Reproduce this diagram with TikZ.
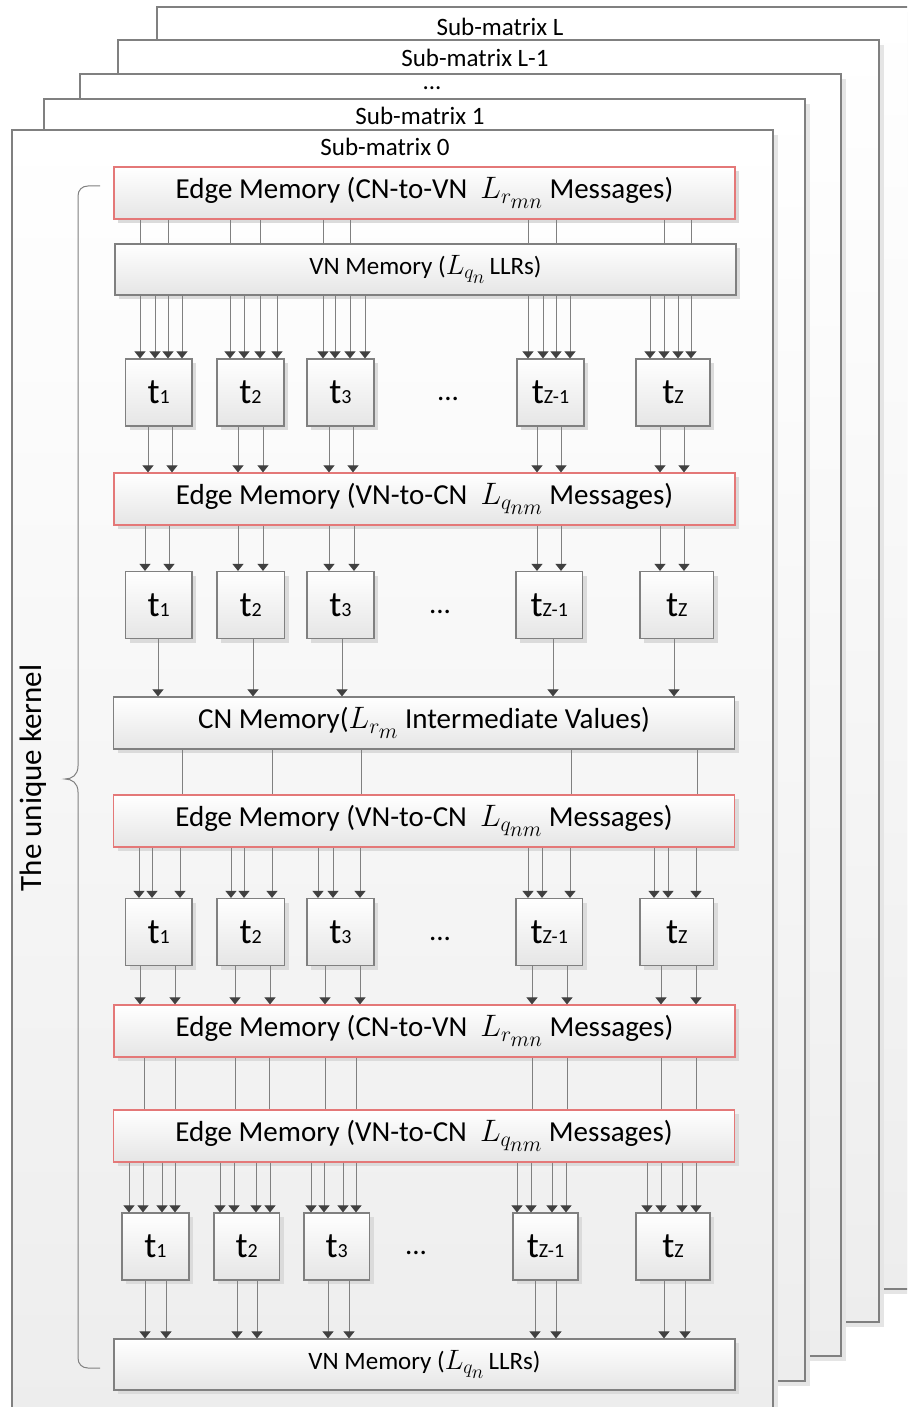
\RequirePackage{fix-cm}
\documentclass[tikz,border=0pt]{standalone}
\usepackage{fontspec}
\setmainfont{Carlito}
\usetikzlibrary{arrows.meta,shadows}

\definecolor{edgered}{RGB}{228,120,120}
\newcommand{\tlab}[1]{{\fontsize{36}{36}\selectfont t}{\fontsize{20}{20}\selectfont #1}}
% L with a two level index, the inner one kept readable
\newcommand{\Lidx}[3]{{\fontsize{#1}{#1}\selectfont$L_{#2_{\lower2pt\hbox{$\scriptstyle #3$}}}$}}

\begin{document}
\begin{tikzpicture}[x=1pt, y=-1pt, font=\fontsize{29}{34}\selectfont,
    subframe/.style={draw=gray, line width=1.3pt, top color=white, bottom color=black!7,
      drop shadow={shadow xshift=5pt, shadow yshift=-5pt, fill=black!10, opacity=1}},
    mem/.style={draw=black!50, line width=1.2pt, top color=white, bottom color=black!10,
      minimum width=621pt, minimum height=52pt, inner sep=0pt,
      drop shadow={shadow xshift=4pt, shadow yshift=-4pt, fill=black!14, opacity=1}},
    edgemem/.style={mem, draw=edgered},
    vnmem/.style={mem, minimum height=51pt, font=\fontsize{25}{30}\selectfont},
    tbox/.style={mem, minimum width=67pt, minimum height=67pt},
    link/.style={draw=black!50, line width=1pt},
    arr/.style={link, -{Triangle[width=11pt, length=7pt, color=black!75]}}]

  \fill[white] (0,0) rectangle (907,1407);
  \useasboundingbox (0,0) rectangle (907,1407);
  \clip (0,0) rectangle (907,1407);

  % stacked sub-matrices, back to front
  \foreach \x/\y/\lab/\tx/\ty in {157/7/{Sub-matrix L}/500/27, 118/40/{Sub-matrix L-1}/475/58,
      80/74/{...}/432/88, 44/99/{Sub-matrix 1}/420/116, 12/130/{Sub-matrix 0}/385/147} {
    \draw[subframe] (\x,\y) rectangle ++(761,1282);
    \node[font=\fontsize{25}{30}\selectfont, inner sep=0pt] (title\x) at (\tx,\ty) {\lab};
  }

  % the brace and its label
  \draw[link] (100,186) -- (88,186) .. controls (82,186) and (78,190) .. (78,196) -- (78,766)
    .. controls (78,775) and (72,779) .. (65,779) .. controls (72,779) and (78,783) .. (78,792)
    -- (78,1358) .. controls (78,1364) and (82,1368) .. (88,1368) -- (100,1368);
  \node[rotate=90, font=\fontsize{31}{36}\selectfont] (kernel) at (33,778) {The unique kernel};

  % memories
  \node[edgemem] (em1) at (424.5,193) {Edge Memory (CN-to-VN~ \Lidx{31}{r}{mn} Messages)};
  \node[vnmem] (vn1) at (425.5,269.5) {VN Memory (\Lidx{28}{q}{n}\,LLRs)};
  \node[edgemem] (em2) at (424.5,499) {Edge Memory (VN-to-CN~ \Lidx{31}{q}{nm} Messages)};
  \node[mem] (cn) at (424,723) {CN Memory(\Lidx{31}{r}{m} Intermediate Values)};
  \node[edgemem] (em3) at (424,821) {Edge Memory (VN-to-CN~ \Lidx{31}{q}{nm} Messages)};
  \node[edgemem] (em4) at (424.5,1031) {Edge Memory (CN-to-VN~ \Lidx{31}{r}{mn} Messages)};
  \node[edgemem] (em5) at (424,1136) {Edge Memory (VN-to-CN~ \Lidx{31}{q}{nm} Messages)};
  \node[vnmem] (vn2) at (424.5,1364.5) {VN Memory (\Lidx{28}{q}{n}\,LLRs)};

  % thread rows
  \foreach \i/\l/\r/\s in {1/125.5/192/1, 2/217/284/2, 3/307/374/3, 4/517/584/{Z-1}, 5/636/710/Z}
    \node[tbox, minimum width={\r-\l}] (a\i) at ({(\l+\r)/2},392.5) {\tlab{\s}};
  \foreach \i/\l/\r/\s in {1/125.5/192/1, 2/217/284.5/2, 3/307/374/3, 4/516/582.5/{Z-1}, 5/640/713.5/Z} {
    \node[tbox, minimum width={\r-\l}] (b\i) at ({(\l+\r)/2},605) {\tlab{\s}};
    \node[tbox, minimum width={\r-\l}] (c\i) at ({(\l+\r)/2},932) {\tlab{\s}};
  }
  \foreach \i/\l/\r/\s in {1/122/189/1, 2/214/279.5/2, 3/304/369.5/3, 4/513/578/{Z-1}, 5/636/710/Z}
    \node[tbox, minimum width={\r-\l}] (d\i) at ({(\l+\r)/2},1246.5) {\tlab{\s}};
  \node (adots) at (448,399) {...};
  \node (bdots) at (440,612) {...};
  \node (cdots) at (440,939) {...};
  \node (ddots) at (416,1253) {...};

  % connectors
  \foreach \x in {140,168,230,260,323,350,528,556,664,691}
    \draw[link] (em1.south -| \x,0) -- (vn1.north -| \x,0);
  \foreach \t/\xs in {a1/{140,155,168,182}, a2/{230,244,260,277}, a3/{323,335,350,365},
      a4/{528,543,556,570}, a5/{650,664,678,691}}
    \foreach \x in \xs
      \draw[arr] (vn1.south -| \x,0) -- (\t.north -| \x,0);
  \foreach \t/\xs in {a1/{148,172}, a2/{238,263}, a3/{329,353}, a4/{537,561}, a5/{660,684}}
    \foreach \x in \xs
      \draw[arr] (\t.south -| \x,0) -- (em2.north -| \x,0);
  \foreach \t/\xs in {b1/{145,169}, b2/{238,263}, b3/{329,354}, b4/{537,561}, b5/{660,684}}
    \foreach \x in \xs
      \draw[arr] (em2.south -| \x,0) -- (\t.north -| \x,0);
  \foreach \t/\x in {b1/158, b2/253, b3/342, b4/553, b5/674}
    \draw[arr] (\t.south -| \x,0) -- (cn.north -| \x,0);
  \foreach \x in {182,272,361,571,697}
    \draw[link] (cn.south -| \x,0) -- (em3.north -| \x,0);
  \foreach \t/\xs in {c1/{139,152,180}, c2/{231,244,272}, c3/{318,333,360},
      c4/{528,542,570}, c5/{654,668,696}}
    \foreach \x in \xs
      \draw[arr] (em3.south -| \x,0) -- (\t.north -| \x,0);
  \foreach \t/\xs in {c1/{140,175}, c2/{235,270}, c3/{325,360}, c4/{532,567}, c5/{661,696}}
    \foreach \x in \xs
      \draw[arr] (\t.south -| \x,0) -- (em4.north -| \x,0);
  \foreach \x in {144,175,235,269,325,356,532,567,661,696}
    \draw[link] (em4.south -| \x,0) -- (em5.north -| \x,0);
  \foreach \t/\xs in {d1/{129,143,162,175}, d2/{220,234,256,270}, d3/{311,324,343,356},
      d4/{517,531,552,566}, d5/{647,661,682,696}}
    \foreach \x in \xs
      \draw[arr] (em5.south -| \x,0) -- (\t.north -| \x,0);
  \foreach \t/\xs in {d1/{145,166}, d2/{237,257}, d3/{328,349}, d4/{535,556}, d5/{664,685}}
    \foreach \x in \xs
      \draw[arr] (\t.south -| \x,0) -- (vn2.north -| \x,0);
\end{tikzpicture}
\end{document}
